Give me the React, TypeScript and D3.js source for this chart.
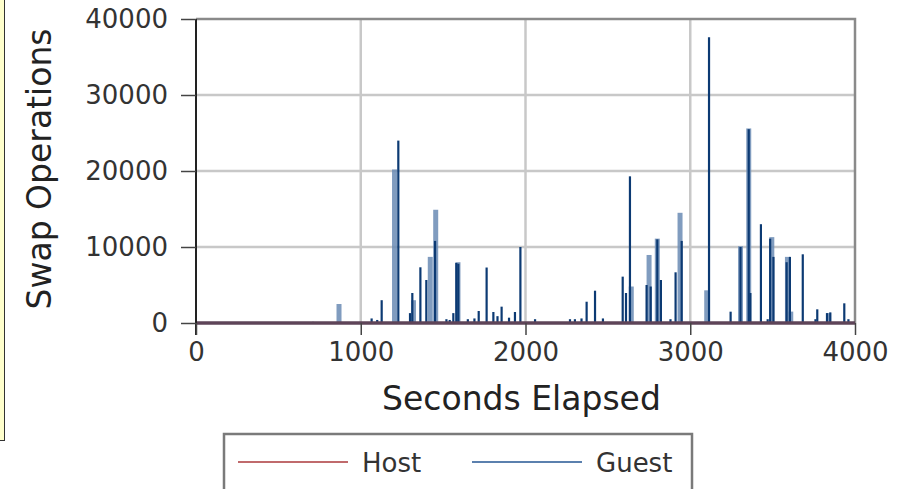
import React, { useRef, useEffect } from 'react'
import * as d3 from 'd3'

// x ticks / y ticks
const xTicks = [0, 1000, 2000, 3000, 4000]
const yTicks = [0, 10000, 20000, 30000, 40000]

// host stays flat at zero the whole run
const hostTimes = [0, 1000, 2000, 3000, 4000]
const hostValues = [0, 0, 0, 0, 0]

// guest swap bursts (narrow, dark)
const guestTimes = [
  710, 1066, 1100, 1127, 1228, 1299, 1313, 1362, 1398, 1451, 1520, 1540, 1562, 1580, 1592,
  1650, 1690, 1716, 1764, 1805, 1830, 1855, 1900, 1936, 1969, 2058, 2270, 2300, 2340, 2371,
  2422, 2470, 2590, 2610, 2634, 2735, 2760, 2800, 2822, 2880, 2911, 2948, 3114, 3245, 3305,
  3355, 3365, 3429, 3470, 3485, 3505, 3585, 3605, 3683, 3760, 3771, 3830, 3850, 3935, 3960,
]
const guestValues = [
  150, 600, 400, 3000, 24000, 1300, 3950, 7330, 5660, 10800, 500, 400, 1300, 7900, 7800,
  500, 600, 1580, 7300, 1450, 900, 2150, 700, 1450, 10000, 500, 500, 500, 600, 2800,
  4250, 600, 6100, 3950, 19300, 5000, 4800, 11000, 5660, 500, 6670, 10800, 37600, 1490, 10000,
  25500, 3950, 13000, 500, 11100, 8700, 8000, 8700, 9040, 500, 1800, 1300, 1400, 2590, 500,
]

// wider, lighter guest bursts
const guestWideTimes = [868, 1205, 1320, 1422, 1455, 1590, 2642, 2750, 2800, 2938, 3100, 3305, 3355, 3495, 3590, 3610, 3840]
const guestWideValues = [2500, 20200, 3000, 8700, 14900, 8000, 4800, 8950, 11100, 14500, 4300, 10100, 25600, 11300, 8700, 1500, 1300]

const width = 904
const height = 489
const plotLeft = 196
const plotRight = 855
const plotTop = 19
const plotBottom = 323
const font = 'DejaVu Sans, sans-serif'

export default function App() {
  const svgRef = useRef<SVGSVGElement>(null)

  useEffect(() => {
    const svg = d3.select(svgRef.current)
    svg.selectAll('*').remove()

    const xScale = d3.scaleLinear().domain([0, 4000]).range([plotLeft, plotRight])
    const yScale = d3.scaleLinear().domain([0, 40000]).range([plotBottom, plotTop])

    // yellow frame peeking in on the left
    svg.append('rect')
      .attr('x', -2).attr('y', -2).attr('width', 6.5).attr('height', 442.5)
      .attr('fill', '#ffffcc').attr('stroke', '#333').attr('stroke-width', 1)

    // plot background
    svg.append('rect')
      .attr('x', plotLeft).attr('y', plotTop)
      .attr('width', plotRight - plotLeft).attr('height', plotBottom - plotTop)
      .attr('fill', '#fff')

    // grid
    const grid = svg.append('g').attr('stroke', '#c8c8c8').attr('stroke-width', 2.5)
    grid.selectAll('line.gx').data(xTicks.slice(1, -1)).join('line')
      .attr('x1', d => xScale(d)).attr('x2', d => xScale(d))
      .attr('y1', plotTop).attr('y2', plotBottom)
    grid.selectAll('line.gy').data(yTicks.slice(1, -1)).join('line')
      .attr('x1', plotLeft).attr('x2', plotRight)
      .attr('y1', d => yScale(d)).attr('y2', d => yScale(d))

    // top / right frame
    svg.append('path')
      .attr('d', `M${plotLeft},${plotTop}H${plotRight}V${plotBottom}`)
      .attr('fill', 'none').attr('stroke', '#8a8a8a').attr('stroke-width', 2.5)

    // guest wide bursts
    svg.append('g').selectAll('rect')
      .data(guestWideTimes.map((t, i) => ({ t, v: guestWideValues[i] })))
      .join('rect')
        .attr('x', d => xScale(d.t) - 2.5)
        .attr('width', 5)
        .attr('y', d => yScale(d.v))
        .attr('height', d => yScale(0) - yScale(d.v))
        .attr('fill', '#6a8bb4')
        .attr('opacity', 0.85)

    // guest narrow bursts
    svg.append('g').attr('stroke', '#0c3a73').attr('stroke-width', 2.2)
      .selectAll('line')
      .data(guestTimes.map((t, i) => ({ t, v: guestValues[i] })))
      .join('line')
        .attr('x1', d => xScale(d.t)).attr('x2', d => xScale(d.t))
        .attr('y1', yScale(0)).attr('y2', d => yScale(d.v))

    // host line along zero
    const line = d3.line<number>()
      .x((_, i) => xScale(hostTimes[i]))
      .y(d => yScale(d))
    svg.append('path')
      .datum(hostValues)
      .attr('d', line)
      .attr('fill', 'none')
      .attr('stroke', '#5e4458')
      .attr('stroke-width', 3.5)

    // y axis
    const yAxis = svg.append('g')
      .attr('transform', `translate(${plotLeft},0)`)
      .call(d3.axisLeft(yScale).tickValues(yTicks).tickSize(15).tickPadding(13).tickFormat(d3.format('d')))
    yAxis.select('.domain').attr('stroke', '#222').attr('stroke-width', 2).attr('d', `M0,${plotTop}V${plotBottom + 12}`)
    yAxis.selectAll('.tick line').attr('stroke', '#444').attr('stroke-width', 1.5)
    yAxis.selectAll('.tick text')
      .attr('font-family', font).attr('font-size', 26).attr('fill', '#333')

    // x axis
    const xAxis = svg.append('g')
      .attr('transform', `translate(0,${plotBottom})`)
      .call(d3.axisBottom(xScale).tickValues(xTicks).tickSize(12).tickPadding(8).tickFormat(d3.format('d')))
    xAxis.select('.domain').remove()
    xAxis.selectAll('.tick line').attr('stroke', '#444').attr('stroke-width', 1.5)
    xAxis.selectAll('.tick text')
      .attr('font-family', font).attr('font-size', 26).attr('fill', '#333')

    // axis titles
    svg.append('text')
      .attr('x', (plotLeft + plotRight) / 2 - 4).attr('y', 410)
      .attr('text-anchor', 'middle')
      .attr('font-family', font).attr('font-size', 33).attr('fill', '#222')
      .text('Seconds Elapsed')

    svg.append('text')
      .attr('transform', `translate(51,169) rotate(-90)`)
      .attr('text-anchor', 'middle')
      .attr('font-family', font).attr('font-size', 33).attr('fill', '#222')
      .text('Swap Operations')

    // legend
    const legend = svg.append('g')
    legend.append('rect')
      .attr('x', 224).attr('y', 434).attr('width', 468).attr('height', 80)
      .attr('fill', '#fff').attr('stroke', '#7a7a7a').attr('stroke-width', 2.5)
    const items = [
      { name: 'Host', color: '#c06a6c', x: 238 },
      { name: 'Guest', color: '#5b80ae', x: 472 },
    ]
    items.forEach(it => {
      legend.append('line')
        .attr('x1', it.x).attr('x2', it.x + 110)
        .attr('y1', 462).attr('y2', 462)
        .attr('stroke', it.color).attr('stroke-width', 2)
      legend.append('text')
        .attr('x', it.x + 124).attr('y', 472)
        .attr('font-family', font).attr('font-size', 26).attr('fill', '#333')
        .text(it.name)
    })
  }, [])

  return (
    <svg
      ref={svgRef}
      width={width}
      height={height}
      style={{ position: 'absolute', left: 0, top: 0, background: '#fff' }}
    />
  )
}
